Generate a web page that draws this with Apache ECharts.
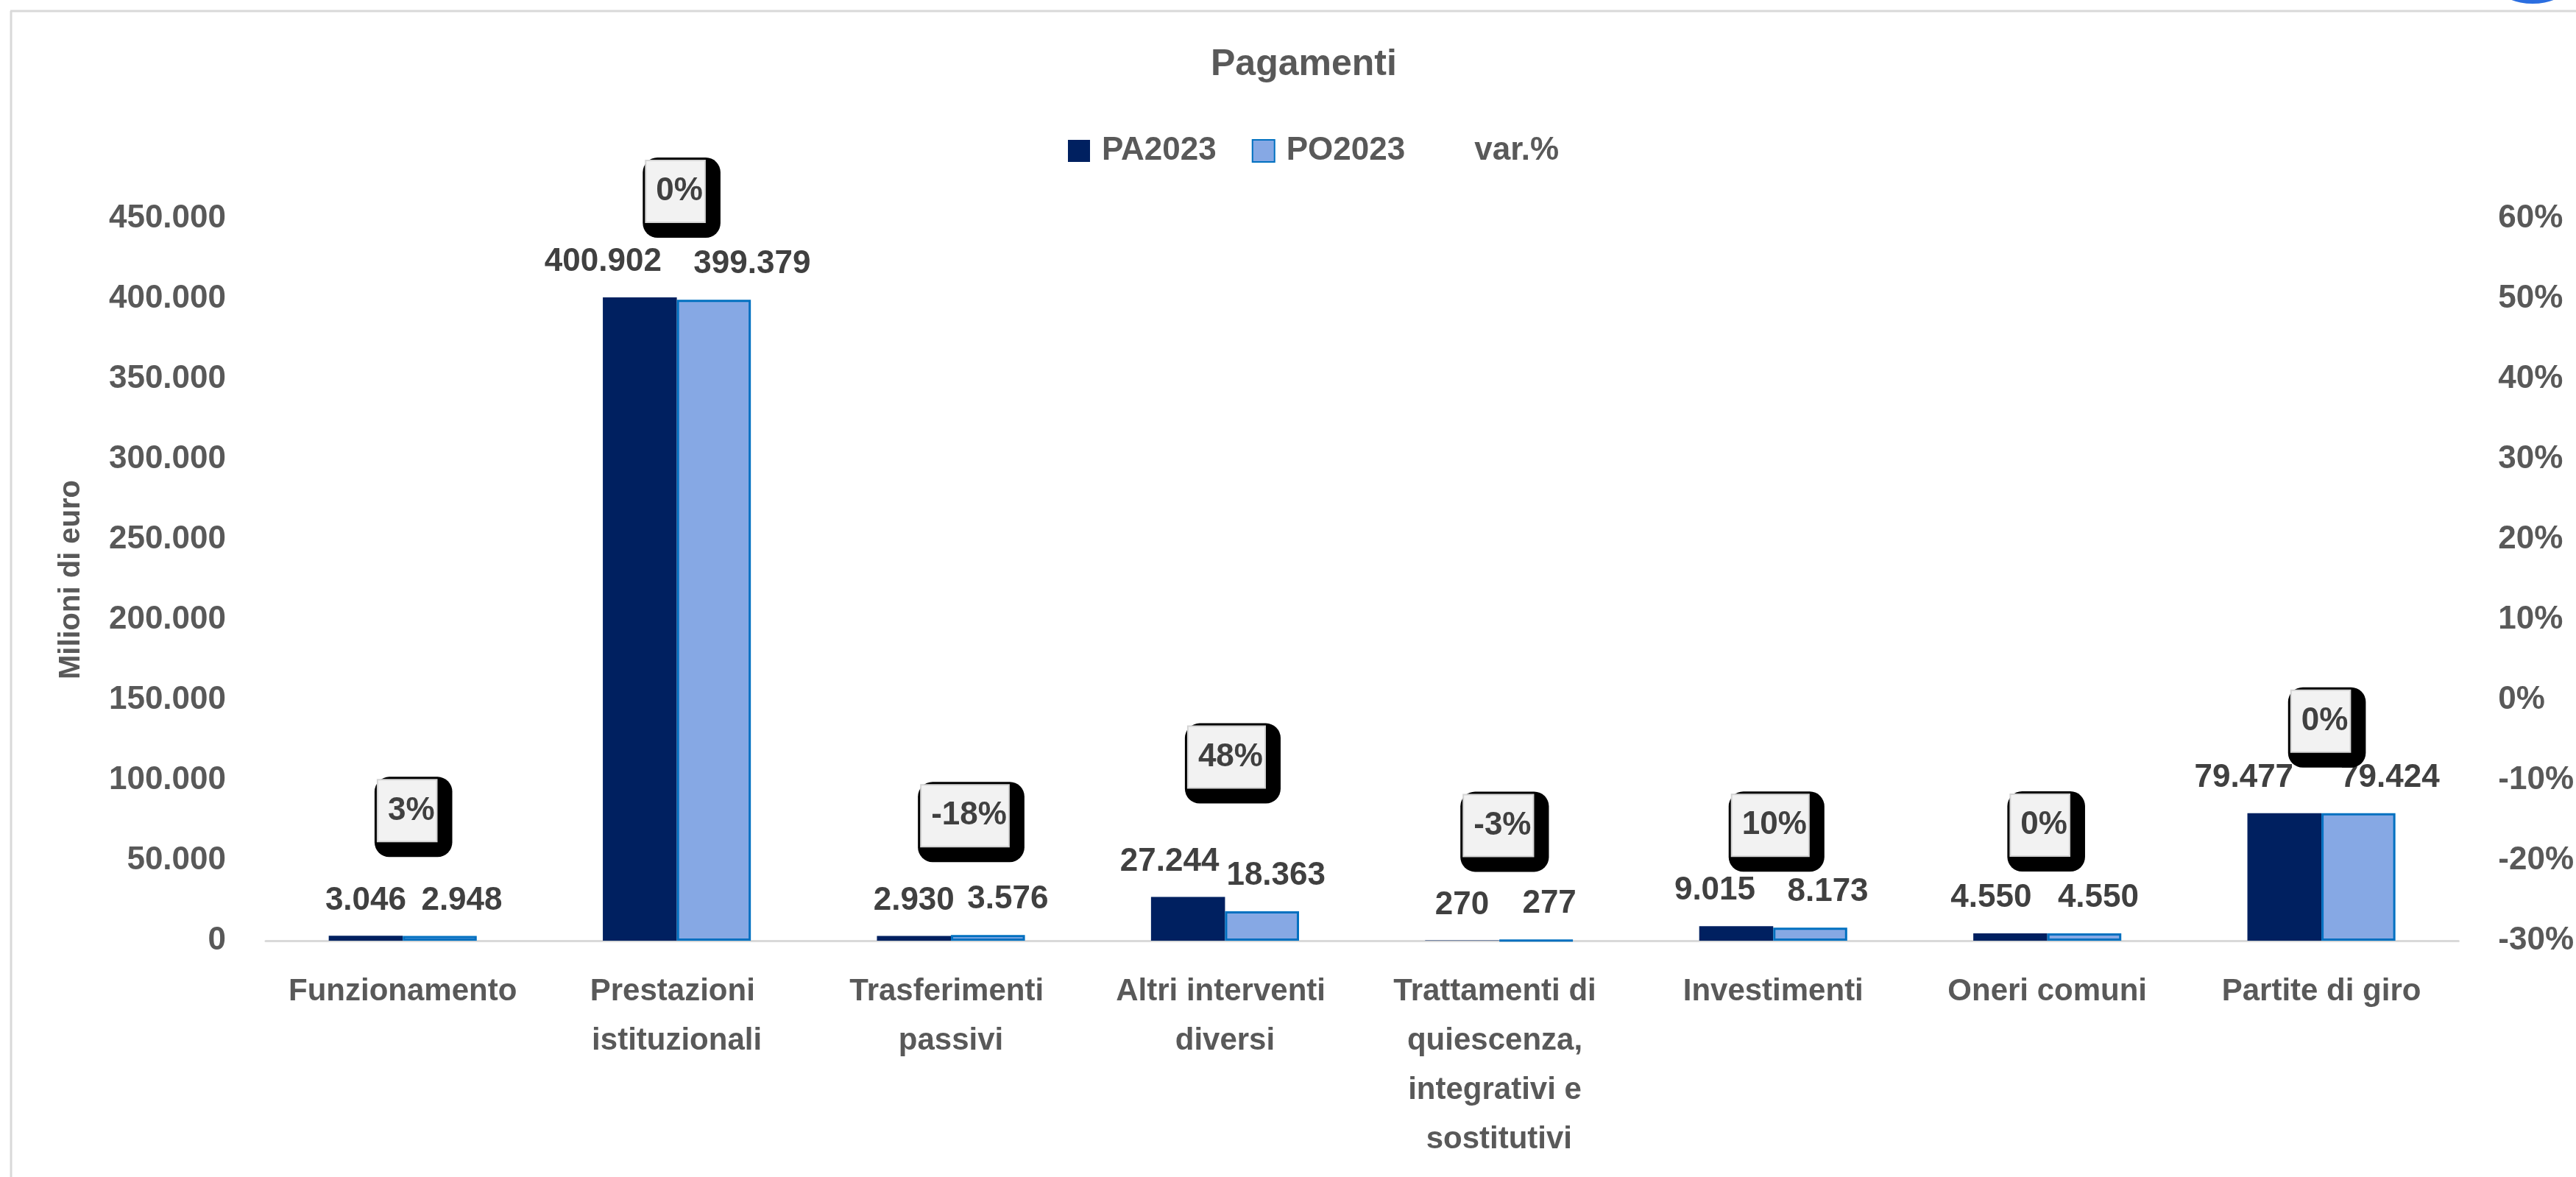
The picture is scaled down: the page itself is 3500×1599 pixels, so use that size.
<!DOCTYPE html>
<html>
<head>
<meta charset="utf-8">
<script src="https://cdn.jsdelivr.net/npm/echarts@6/dist/echarts.min.js"></script>
<style>
  html, body { margin: 0; padding: 0; background: #ffffff; }
  #chart { width: 3500px; height: 1599px; }
</style>
</head>
<body>
<div id="chart"></div>
<script>
// ---- data ----
const categories = [
  'Funzionamento',
  'Prestazioni istituzionali',
  'Trasferimenti passivi',
  'Altri interventi diversi',
  'Trattamenti di quiescenza, integrativi e sostitutivi',
  'Investimenti',
  'Oneri comuni',
  'Partite di giro'
];
const pa2023 = [3046, 400902, 2930, 27244, 270, 9015, 4550, 79477];
const po2023 = [2948, 399379, 3576, 18363, 277, 8173, 4550, 79424];
const varPct = [3, 0, -18, 48, -3, 10, 0, 0];
const leftTicks = { min: 0, max: 450000, interval: 50000 };
const rightTicks = { min: -30, max: 60, interval: 10 };

// ---- label placement styles (pixels, not data) ----
const paLabelDx = [0, -50, 0, -25, 0, -29, -26, -55];
const poLabelDx = [30, 52, 27, 19, 18, 24, 19, 43];
const varBoxLift = [170, 144, 162, 190, 156, 137, 147, 125];
const varBoxDx = [6, -2, 19, 2, -1, -4, -10, -1];

const FONT = "'Liberation Sans', Arial, sans-serif";
const fmt = v => String(Math.round(v)).replace(/\B(?=(\d{3})+(?!\d))/g, '.');

const chart = echarts.init(document.getElementById('chart'), null, { renderer: 'canvas' });

const valueLabel = {
  show: true,
  position: 'top',
  distance: 26,
  fontFamily: FONT,
  fontSize: 44,
  fontWeight: 'bold',
  color: '#404040',
  formatter: p => fmt(p.value)
};

const option = {
  backgroundColor: '#ffffff',
  animation: false,
  title: {
    text: 'Pagamenti',
    left: 1640,
    top: 58,
    textStyle: { fontFamily: FONT, fontSize: 50, fontWeight: 'bold', color: '#595959' }
  },
  legend: {
    left: 1446,
    top: 178,
    itemWidth: 30,
    itemHeight: 30,
    itemGap: 48,
    textStyle: { fontFamily: FONT, fontSize: 44, fontWeight: 'bold', color: '#595959', padding: [0, 0, 0, 11] },
    data: [
      { name: 'PA2023', icon: 'rect', itemStyle: { color: '#002060', borderWidth: 0 } },
      { name: 'PO2023', icon: 'rect', itemStyle: { color: '#86A8E4', borderColor: '#0070C0', borderWidth: 2 } },
      { name: 'var.%', icon: 'rect', itemStyle: { color: 'rgba(0,0,0,0)', borderWidth: 0 } }
    ]
  },
  grid: { left: 361, right: 157, top: 297, bottom: 321, containLabel: false },
  xAxis: {
    type: 'category',
    data: categories,
    axisLine: { show: true, lineStyle: { color: '#d9d9d9', width: 3 } },
    axisTick: { show: false },
    axisLabel: {
      interval: 0,
      margin: 36,
      fontFamily: FONT,
      fontSize: 42,
      fontWeight: 'bold',
      color: '#595959',
      lineHeight: 67,
      width: 330,
      overflow: 'break'
    }
  },
  yAxis: [
    {
      type: 'value',
      min: leftTicks.min,
      max: leftTicks.max,
      interval: leftTicks.interval,
      name: 'Milioni di euro',
      nameLocation: 'middle',
      nameGap: 244,
      nameRotate: 90,
      nameTextStyle: { fontFamily: FONT, fontSize: 40, fontWeight: 'bold', color: '#595959' },
      axisLine: { show: false },
      axisTick: { show: false },
      splitLine: { show: false },
      axisLabel: {
        margin: 54,
        fontFamily: FONT, fontSize: 44, fontWeight: 'bold', color: '#595959',
        formatter: v => fmt(v)
      }
    },
    {
      type: 'value',
      position: 'right',
      min: rightTicks.min,
      max: rightTicks.max,
      interval: rightTicks.interval,
      axisLine: { show: false },
      axisTick: { show: false },
      splitLine: { show: false },
      axisLabel: {
        margin: 54,
        fontFamily: FONT, fontSize: 44, fontWeight: 'bold', color: '#595959',
        formatter: v => Math.round(v) + '%'
      }
    }
  ],
  series: [
    {
      name: 'PA2023',
      type: 'bar',
      yAxisIndex: 0,
      barGap: '0%',
      barCategoryGap: '46%',
      itemStyle: { color: '#002060' },
      label: valueLabel,
      data: pa2023.map((v, i) => ({ value: v, label: { offset: [paLabelDx[i], 0] } }))
    },
    {
      name: 'PO2023',
      type: 'bar',
      yAxisIndex: 0,
      barGap: '0%',
      barCategoryGap: '46%',
      itemStyle: { color: '#86A8E4', borderColor: '#0070C0', borderWidth: 3 },
      label: valueLabel,
      data: po2023.map((v, i) => ({ value: v, label: { offset: [poLabelDx[i], 0] } }))
    },
    {
      name: 'var.%',
      type: 'scatter',
      yAxisIndex: 0,
      symbol: 'rect',
      symbolSize: 1,
      itemStyle: { color: 'rgba(0,0,0,0)', opacity: 1 },
      z: 5,
      label: {
        show: true,
        position: 'inside',
        opacity: 1,
        backgroundColor: '#000000',
        borderRadius: 20,
        padding: [5, 22, 22, 5],
        formatter: p => '{b|' + varPct[p.dataIndex] + '%}',
        rich: {
          b: {
            fontFamily: FONT,
            fontSize: 44,
            fontWeight: 'bold',
            color: '#404040',
            height: 44,
            lineHeight: 82,
            backgroundColor: '#f2f2f2',
            borderColor: '#d4d4d4',
            borderWidth: 2,
            padding: [19, 2, 19, 13]
          }
        }
      },
      data: pa2023.map((v, i) => ({
        value: Math.max(v, po2023[i]),
        label: { offset: [varBoxDx[i] + 8.5, -varBoxLift[i] + 8.5] }
      }))
    }
  ],
  graphic: [
    { type: 'line', shape: { x1: 14, y1: 15, x2: 3500, y2: 15 }, style: { stroke: '#d9d9d9', lineWidth: 3 }, silent: true },
    { type: 'line', shape: { x1: 15, y1: 15, x2: 15, y2: 1599 }, style: { stroke: '#d9d9d9', lineWidth: 3 }, silent: true },
    { type: 'circle', shape: { cx: 3441, cy: -79, r: 84 }, style: { fill: '#2b6ee0' }, silent: true }
  ]
};

chart.setOption(option);
</script>
</body>
</html>
